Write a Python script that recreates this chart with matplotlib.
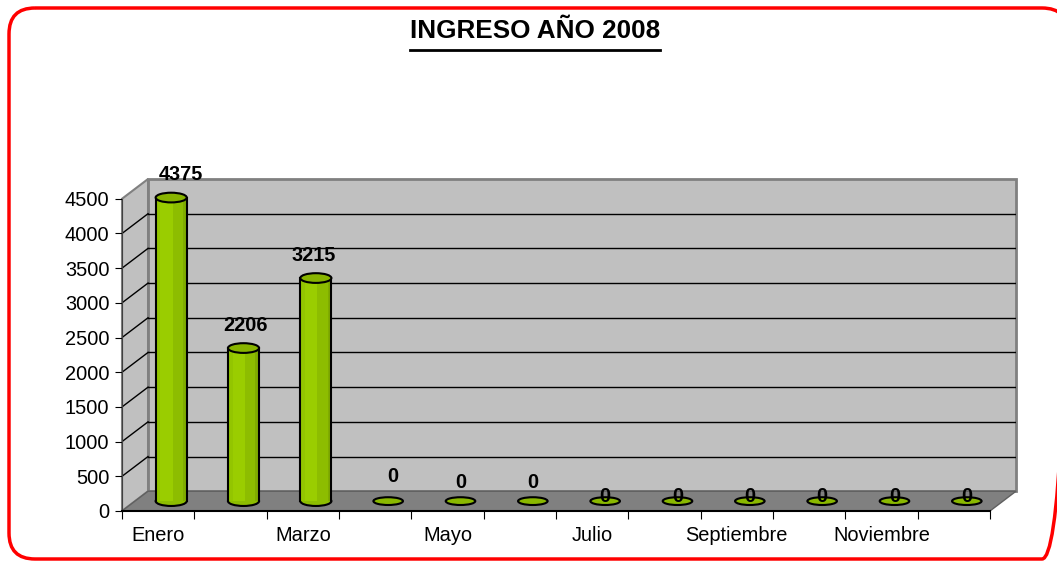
import numpy as np
import matplotlib
matplotlib.use('Agg')
import matplotlib.pyplot as plt
from matplotlib.patches import Polygon, Rectangle, Ellipse, FancyBboxPatch
from matplotlib.lines import Line2D

plt.rcParams['font.family'] = ['Liberation Sans', 'DejaVu Sans']

# data
meses = ['Enero', 'Febrero', 'Marzo', 'Abril', 'Mayo', 'Junio', 'Julio',
         'Agosto', 'Septiembre', 'Octubre', 'Noviembre', 'Diciembre']
ingresos = [4375, 2206, 3215, 0, 0, 0, 0, 0, 0, 0, 0, 0]
yticks = [0, 500, 1000, 1500, 2000, 2500, 3000, 3500, 4000, 4500]
titulo = 'INGRESO AÑO 2008'

# label offsets (px) as Excel placed them
lab_dx = [10, 2, -2, 5, 0, 0, 0, 0, 0, 0, 0, 0]
lab_dy = [23, 23, 23, 25, 19, 19, 5, 5, 5, 5, 5, 5]

# 3d depth in data units
ncat = len(meses)
ymax = 4500
dxd = 0.36
dyd = 285

fig = plt.figure(figsize=(10.57, 5.61), dpi=100)

#red rounded border, drawn in pixel units on a background axes
bg = fig.add_axes([0, 0, 1, 1])
bg.set_xlim(0, 1057)
bg.set_ylim(561, 0)
bg.axis('off')
bg.add_patch(FancyBboxPatch((9, 8), 1068 - 9, 559 - 8,
                            boxstyle='round,pad=0,rounding_size=26',
                            facecolor='none', edgecolor='#FF0000', lw=2.5))

ax = fig.add_axes([122/1057, 1 - 511/561, 894/1057, 332/561])
ax.set_xlim(0, ncat + dxd)
ax.set_ylim(0, ymax + dyd)
ax.patch.set_visible(False)

#walls and floor
back = Polygon([(dxd, dyd), (ncat + dxd, dyd), (ncat + dxd, ymax + dyd), (dxd, ymax + dyd)],
               closed=True, facecolor='#C0C0C0', edgecolor='#808080', lw=2, zorder=0)
left = Polygon([(0, 0), (dxd, dyd), (dxd, ymax + dyd), (0, ymax)],
               closed=True, facecolor='#C0C0C0', edgecolor='#808080', lw=1.5, zorder=0)
floor = Polygon([(0, 0), (ncat, 0), (ncat + dxd, dyd), (dxd, dyd)],
                closed=True, facecolor='#808080', edgecolor='#606060', lw=1, zorder=1)
for p in (back, left, floor):
    p.set_clip_on(False)
    ax.add_patch(p)

#gridlines on back wall + left wall
for v in yticks[1:-1]:
    ax.plot([dxd, ncat + dxd], [v + dyd, v + dyd], color='black', lw=1, zorder=2)
    ax.plot([0, dxd], [v, v + dyd], color='black', lw=1, zorder=2)

#cylinders
cw = 0.43
eh = 140
strips = [(0.0, 0.15, '#93C500'), (0.15, 0.55, '#9ACD00'),
          (0.55, 0.88, '#8DBD00'), (0.88, 1.0, '#80AC00')]
for i, v in enumerate(ingresos):
    cx = i + 0.5 + dxd / 2
    y0 = dyd / 2
    y1 = y0 + v
    if v > 0:
        ax.add_patch(Ellipse((cx, y0), cw, eh, facecolor='#8DBD00',
                             edgecolor='black', lw=1.5, zorder=3))
        for a, b, c in strips:
            ax.add_patch(Rectangle((cx - cw/2 + a*cw, y0), (b - a)*cw, v,
                                   facecolor=c, edgecolor='none', zorder=4))
        ax.plot([cx - cw/2, cx - cw/2], [y0, y1], color='black', lw=1.5, zorder=5)
        ax.plot([cx + cw/2, cx + cw/2], [y0, y1], color='black', lw=1.5, zorder=5)
        ax.add_patch(Ellipse((cx, y1), cw, eh, facecolor='#88B400',
                             edgecolor='black', lw=1.5, zorder=5))
    else:
        ax.add_patch(Ellipse((cx, y1), cw*0.95, eh*0.8, facecolor='#8AB800',
                             edgecolor='black', lw=1.5, zorder=5))
    ax.annotate(str(v), (cx, y1), xytext=(lab_dx[i]*0.72, lab_dy[i]*0.72),
                textcoords='offset points', ha='center', va='center',
                fontsize=14.3, fontweight='bold', zorder=7)

#axes
for s in ('top', 'right'):
    ax.spines[s].set_visible(False)
ax.spines['left'].set_bounds(0, ymax)
ax.spines['bottom'].set_bounds(0, ncat)
ax.spines['bottom'].set_linewidth(1.5)
ax.spines['left'].set_color('#404040')
ax.set_yticks(yticks)
ax.set_yticklabels([str(t) for t in yticks])
ax.set_xticks(np.arange(0, ncat + 1))
ax.set_xticklabels([])
ax.set_xticks(np.arange(ncat) + 0.5, minor=True)
ax.set_xticklabels([m if k % 2 == 0 else '' for k, m in enumerate(meses)], minor=True)
ax.tick_params(axis='x', which='major', length=6, direction='out')
ax.tick_params(axis='x', which='minor', length=0, pad=11, labelsize=14.4)
ax.tick_params(axis='y', length=5, direction='out', pad=4, labelsize=14.4)

#title with underline
t = fig.text(535/1057, 1 - 31/561, titulo, ha='center', va='center',
             fontsize=18.8, fontweight='bold')
fig.canvas.draw()
bb = t.get_window_extent()
uy = 1 - 50/561
fig.add_artist(Line2D([bb.x0/fig.bbox.width, bb.x1/fig.bbox.width], [uy, uy],
                      color='black', lw=2))

fig.savefig('out.png', dpi=100)
